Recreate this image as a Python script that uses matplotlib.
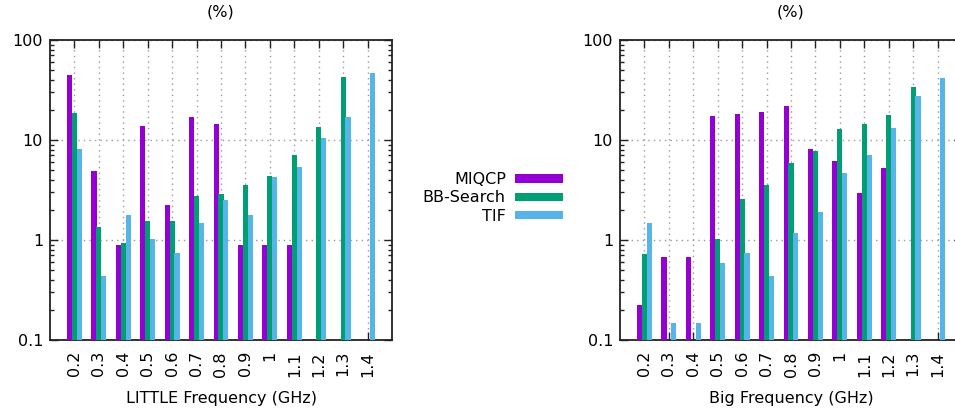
import numpy as np
import matplotlib
matplotlib.use("Agg")
import matplotlib.pyplot as plt
from matplotlib.ticker import LogLocator, NullFormatter

freq_labels = ["0.2", "0.3", "0.4", "0.5", "0.6", "0.7", "0.8", "0.9", "1", "1.1", "1.2", "1.3", "1.4"]
series_names = ["MIQCP", "BB-Search", "TIF"]
colors = ["#9400D3", "#009E73", "#56B4E9"]
nan = np.nan

little_miqcp = [44.7, 4.9, 0.90, 13.7, 2.24, 17.1, 14.6, 0.90, 0.90, 0.90, nan, nan, nan]
little_bb = [18.7, 1.34, 0.93, 1.54, 1.54, 2.77, 2.88, 3.52, 4.37, 7.08, 13.4, 42.7, nan]
little_tif = [8.07, 0.44, 1.77, 1.02, 0.74, 1.47, 2.51, 1.77, 4.27, 5.33, 10.5, 16.9, 46.4]

big_miqcp = [0.224, 0.67, 0.67, 17.5, 18.2, 19.2, 22.0, 8.13, 6.12, 2.93, 5.21, nan, nan]
big_bb = [0.72, nan, nan, 1.02, 2.57, 3.52, 5.89, 7.82, 13.0, 14.5, 17.8, 33.9, nan]
big_tif = [1.47, 0.147, 0.147, 0.59, 0.74, 0.44, 1.17, 1.91, 4.71, 7.08, 13.2, 27.7, 41.7]

plt.rcParams['font.family'] = ['DejaVu Sans']
fig = plt.figure(figsize=(9.55, 4.12), dpi=100)

W, H = 955, 412
def axpos(x0, x1, y0, y1):
    return [x0 / W, (H - y1) / H, (x1 - x0) / W, (y1 - y0) / H]

ax1 = fig.add_axes(axpos(50, 392, 40, 340))
ax2 = fig.add_axes(axpos(620, 962, 40, 340))

def draw(ax, data, xlabel):
    x = np.arange(len(freq_labels))
    width = 0.21
    handles = []
    for i, (vals, c, name) in enumerate(zip(data, colors, series_names)):
        v = np.array(vals, dtype=float)
        m = np.isfinite(v)
        h = ax.bar(x[m] + (i - 1) * 0.2, v[m] - 0.1, width=width, bottom=0.1,
                   color=c, edgecolor='none', label=name, zorder=3)
        handles.append(h)
    ax.set_yscale('log')
    ax.set_ylim(0.1, 100)
    ax.set_xlim(-1, 13)
    ax.set_yticks([0.1, 1, 10, 100])
    ax.set_yticklabels(["0.1", "1", "10", "100"])
    ax.yaxis.set_minor_locator(LogLocator(base=10, subs=np.arange(2, 10)))
    ax.yaxis.set_minor_formatter(NullFormatter())
    ax.set_xticks(x)
    ax.set_xticklabels(freq_labels, rotation=90)
    ax.tick_params(axis='both', which='major', direction='in', length=6, width=1,
                   top=True, right=True, labelsize=11.5, color='#222222')
    ax.tick_params(axis='y', which='minor', direction='in', length=3, width=1,
                   right=True, color='#222222')
    ax.tick_params(axis='x', which='major', pad=8)
    ax.tick_params(axis='y', which='major', pad=5)
    ax.grid(True, which='major', linestyle=(0, (1, 3)), color='#999999', linewidth=1, zorder=0)
    for s in ax.spines.values():
        s.set_linewidth(1.3)
        s.set_color('#222222')
    ax.set_title("(%)", fontsize=11.5, y=1.0, pad=17)
    ax.set_xlabel(xlabel, fontsize=11.5, labelpad=10)
    return handles

hs = draw(ax1, [little_miqcp, little_bb, little_tif], "LITTLE Frequency (GHz)")
draw(ax2, [big_miqcp, big_bb, big_tif], "Big Frequency (GHz)")

fig.legend(handles=hs, labels=series_names, loc='center', bbox_to_anchor=(493 / W, 1 - 198 / H),
           frameon=False, markerfirst=False, fontsize=11.5, handlelength=3.0,
           handleheight=0.45, labelspacing=0.2, handletextpad=0.6)

fig.savefig("out.png", dpi=100)
